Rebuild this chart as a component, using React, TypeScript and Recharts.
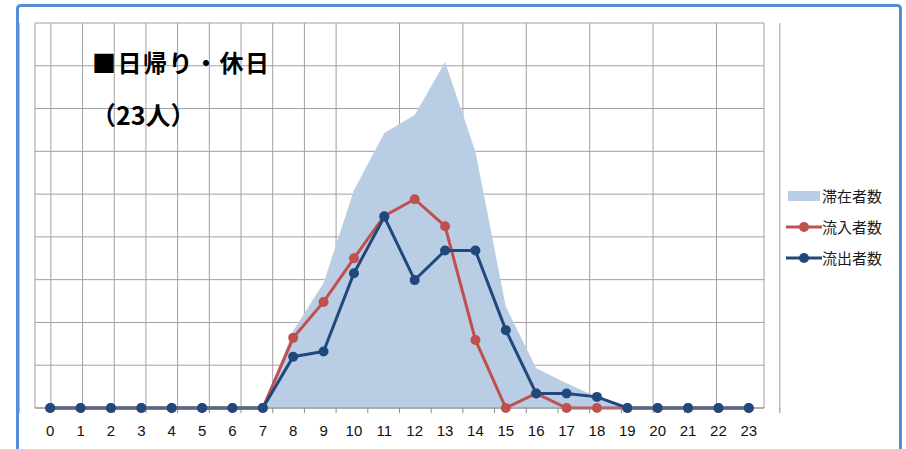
import React from "react";
import { ComposedChart, Area, Line, XAxis, YAxis, CartesianGrid, Legend, ReferenceLine } from "recharts";

const HOURS = [0, 1, 2, 3, 4, 5, 6, 7, 8, 9, 10, 11, 12, 13, 14, 15, 16, 17, 18, 19, 20, 21, 22, 23];
const STAY = [0, 0, 0, 0, 0, 0, 0, 0, 1.8, 2.92, 5.09, 6.43, 6.85, 8.09, 5.99, 2.37, 0.93, 0.58, 0.26, 0, 0, 0, 0, 0];
const INFLOW = [0, 0, 0, 0, 0, 0, 0, 0, 1.64, 2.48, 3.5, 4.49, 4.88, 4.25, 1.59, 0, 0.34, 0, 0, 0, 0, 0, 0, 0];
const OUTFLOW = [0, 0, 0, 0, 0, 0, 0, 0, 1.2, 1.32, 3.15, 4.47, 2.99, 3.68, 3.68, 1.82, 0.34, 0.34, 0.26, 0, 0, 0, 0, 0];
const Y_TICKS = [0, 1, 2, 3, 4, 5, 6, 7, 8, 9];
const NAMES = ["滞在者数", "流入者数", "流出者数"];
const TITLE = "■日帰り・休日";
const SUBTITLE = "（23人）";

const JP = '"Noto Sans CJK JP", sans-serif';
const AREA_COLOR = "#B9CDE5";
const RED = "#C0504D";
const BLUE = "#1F497D";
const GRID = "#A0A0A0";
const AXIS = "#8C8C8C";

const data = HOURS.map((hour, i) => ({
  hour,
  stay: STAY[i],
  inflow: INFLOW[i],
  outflow: OUTFLOW[i],
}));

// category boundaries (Excel draws gridlines and tick marks between categories)
const BOUNDS = HOURS.map((h) => h - 0.5).concat(HOURS[HOURS.length - 1] + 0.5);

function LegendContent(props: any) {
  const items = [...(props.payload || [])].sort(
    (a: any, b: any) => NAMES.indexOf(a.value) - NAMES.indexOf(b.value)
  );
  return (
    <div style={{ fontFamily: JP, fontSize: 15, color: "#1a1a1a" }}>
      {items.map((entry: any) => (
        <div key={entry.value} style={{ display: "flex", alignItems: "center", height: 31 }}>
          <svg width={36} height={14}>
            {entry.dataKey === "stay" ? (
              <rect x={2} y={2} width={32} height={10} fill={AREA_COLOR} />
            ) : (
              <g>
                <line x1={0} y1={7} x2={36} y2={7} stroke={entry.color} strokeWidth={3} />
                <circle cx={18} cy={7} r={5} fill={entry.color} />
              </g>
            )}
          </svg>
          <span>{entry.value}</span>
        </div>
      ))}
    </div>
  );
}

export default function App() {
  return (
    <div style={{ position: "absolute", left: 0, top: 0, width: 906, height: 449, overflow: "hidden", background: "#fff" }}>
      <div style={{ position: "absolute", left: 0, top: 0 }}>
        <ComposedChart width={906} height={449} data={data} margin={{ top: 23, left: 35, right: 26, bottom: 11 }}>
          <XAxis xAxisId="grid" type="number" domain={[-0.5, 23.5]} ticks={BOUNDS} allowDataOverflow hide />
          <CartesianGrid xAxisId="grid" stroke={GRID} strokeWidth={1} />
          <XAxis
            dataKey="hour"
            type="number"
            domain={[-0.5, 23.5]}
            ticks={HOURS}
            allowDataOverflow
            interval={0}
            height={30}
            tickLine={false}
            axisLine={{ stroke: AXIS }}
            tickSize={0}
            tickMargin={17}
            tick={{ fill: "#111", fontSize: 15, fontFamily: '"Liberation Sans", sans-serif' }}
          />
          <YAxis hide domain={[0, 9]} ticks={Y_TICKS} />
          <Legend
            layout="vertical"
            align="right"
            verticalAlign="middle"
            content={<LegendContent />}
            wrapperStyle={{ left: 786, top: 180, width: 116 }}
          />
          <Area
            dataKey="stay"
            name={NAMES[0]}
            type="linear"
            fill={AREA_COLOR}
            fillOpacity={1}
            stroke="none"
            activeDot={false}
            isAnimationActive={false}
          />
          {BOUNDS.map((b) => (
            <ReferenceLine
              key={b}
              xAxisId="grid"
              ifOverflow="visible"
              segment={[
                { x: b, y: 0 },
                { x: b, y: -0.12 },
              ]}
              stroke={AXIS}
            />
          ))}
          <Line
            dataKey="inflow"
            name={NAMES[1]}
            type="linear"
            stroke={RED}
            strokeWidth={3}
            dot={{ r: 5, fill: RED, stroke: RED, strokeWidth: 0 }}
            activeDot={false}
            isAnimationActive={false}
          />
          <Line
            dataKey="outflow"
            name={NAMES[2]}
            type="linear"
            stroke={BLUE}
            strokeWidth={3}
            dot={{ r: 5, fill: BLUE, stroke: BLUE, strokeWidth: 0 }}
            activeDot={false}
            isAnimationActive={false}
          />
        </ComposedChart>
      </div>
      <div
        style={{
          position: "absolute",
          left: 92,
          top: 50,
          fontFamily: JP,
          fontWeight: 700,
          fontSize: 24,
          lineHeight: "24px",
          letterSpacing: 1.5,
          color: "#000",
          whiteSpace: "nowrap",
        }}
      >
        {TITLE}
      </div>
      <div
        style={{
          position: "absolute",
          left: 91,
          top: 102,
          fontFamily: JP,
          fontWeight: 700,
          fontSize: 25,
          lineHeight: "25px",
          color: "#000",
          whiteSpace: "nowrap",
        }}
      >
        {SUBTITLE}
      </div>
      <svg width={906} height={449} style={{ position: "absolute", left: 0, top: 0, pointerEvents: "none" }}>
        <rect x={17.5} y={5.5} width={883} height={520} rx={3} fill="none" stroke="#558ED5" strokeWidth={3} />
      </svg>
    </div>
  );
}
